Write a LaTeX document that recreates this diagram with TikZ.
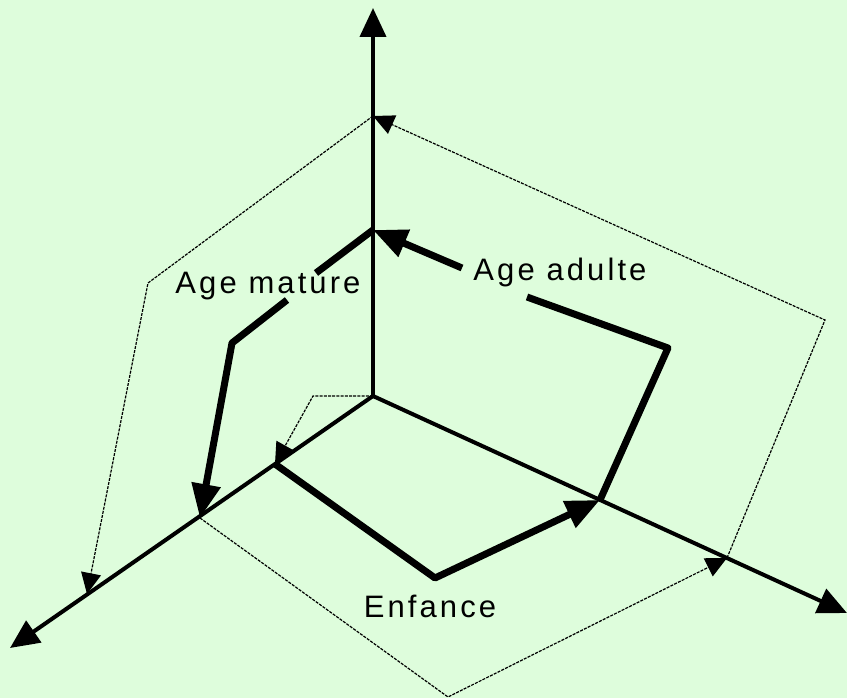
\documentclass[tikz,border=0pt]{standalone}
\usepackage{fontspec}
\setmainfont{Liberation Sans}[LetterSpace=10]
\usetikzlibrary{arrows.meta}
\definecolor{bg}{RGB}{222,253,220}
\begin{document}
\begin{tikzpicture}[x=1pt,y=-1pt,
  axisline/.style={line width=4pt,-{Triangle[length=29pt,width=26pt]}},
  thinline/.style={line width=1.2pt,dash pattern=on 3pt off 1.2pt},
  thinarrow/.style={thinline,-{Triangle[length=21pt,width=20pt]}},
  thickline/.style={line width=7pt,line join=round},
  thickarrow/.style={thickline,-{Triangle[length=34pt,width=28pt]}},
  lbl/.style={font=\fontsize{31}{36}\selectfont,inner sep=0pt}]
\fill[bg] (0,0) rectangle (847,698);
\useasboundingbox (0,0) rectangle (847,698);
% axes points
\coordinate (O) at (373,396);
\coordinate (Vtop) at (373,8);
\coordinate (Ltip) at (10,648);
\coordinate (Rtip) at (847,613);
\coordinate (V1) at (373,116);
\coordinate (V2) at (373,230);
\coordinate (L0) at (275,464);
\coordinate (L1) at (200,518);
\coordinate (L2) at (87,594);
\coordinate (R1) at (600,500);
\coordinate (R2) at (727,558);
% other corners
\coordinate (I1) at (313,396);
\coordinate (C1) at (148,283);
\coordinate (C2) at (448,697);
\coordinate (C3) at (825,320);
\coordinate (T1) at (435,578);
\coordinate (T2) at (668,348);
\coordinate (T3a) at (527,297);
\coordinate (T3b) at (462,268);
\coordinate (T4a) at (316,273);
\coordinate (T4b) at (287,300);
\coordinate (T5) at (232,343);
% thin spiral parts
\draw[thinarrow] (O) -- (I1) -- (L0);
\draw[thinarrow] (L1) -- (C2) -- (R2);
\draw[thinarrow] (R2) -- (C3) -- (V1);
\draw[thinarrow] (V1) -- (C1) -- (L2);
% axes
\draw[axisline] (O) -- (Vtop);
\draw[axisline] (O) -- (Ltip);
\draw[axisline] (O) -- (Rtip);
% thick spiral
\draw[thickarrow] (L0) -- (T1) -- (R1);
\draw[thickline] (R1) -- (T2) -- (T3a);
\draw[thickarrow] (T3b) -- (V2);
\draw[thickline] (V2) -- (T4a);
\draw[thickarrow] (T4b) -- (T5) -- (L1);
% labels
\node[lbl,anchor=base] (mature) at (268,293) {Age mature};
\node[lbl,anchor=base] (adulte) at (560,280) {Age adulte};
\node[lbl,anchor=base] (enfance) at (430,617) {Enfance};
\end{tikzpicture}
\end{document}
